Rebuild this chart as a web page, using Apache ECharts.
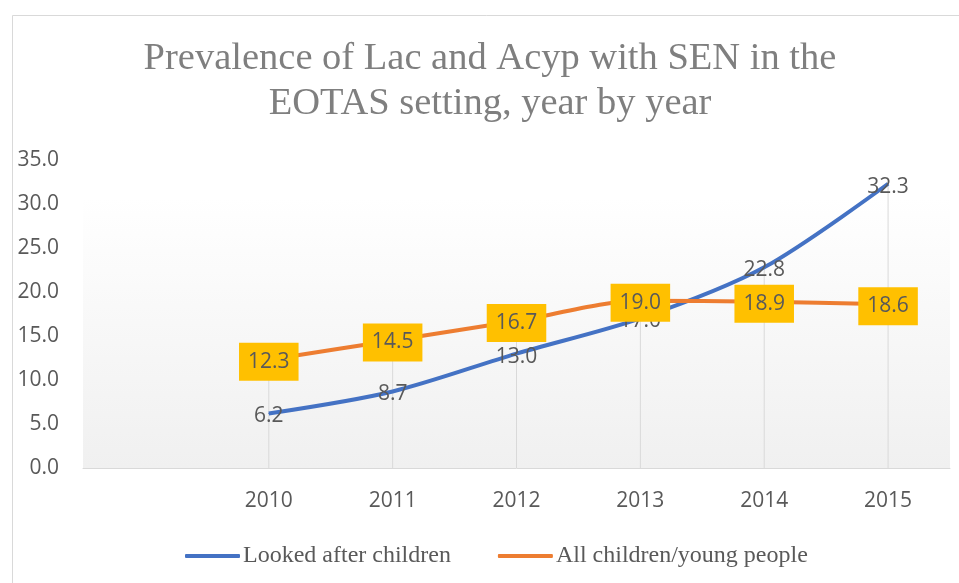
<!DOCTYPE html>
<html>
<head>
<meta charset="utf-8">
<script src="https://cdn.jsdelivr.net/npm/echarts@6/dist/echarts.min.js"></script>
<style>html,body{margin:0;padding:0;background:#fff}#c{width:959px;height:583px}</style>
</head>
<body>
<div id="c"></div>
<script>
const categories = ['', '2010', '2011', '2012', '2013', '2014', '2015'];
const lookedAfter = [null, 6.2, 8.7, 13.0, 17.0, 22.8, 32.3];
const allChildren = [null, 12.3, 14.5, 16.7, 19.0, 18.9, 18.6];
const seriesNames = ['Looked after children', 'All children/young people'];
const yTicks = { min: 0, max: 35, interval: 5 };

const dropLines = categories.map((c, i) =>
  (lookedAfter[i] == null && allChildren[i] == null) ? null : Math.max(lookedAfter[i] ?? -Infinity, allChildren[i] ?? -Infinity));

const chart = echarts.init(document.getElementById('c'), null, { renderer: 'canvas' });
const sans = '"Open Sans", sans-serif';
const serif = '"Liberation Serif", "Times New Roman", serif';
chart.setOption({
  animation: false,
  backgroundColor: '#ffffff',
  graphic: [{
    type: 'rect', silent: true, z: -10,
    shape: { x: 12.5, y: 15.5, width: 1000, height: 1000 },
    style: { fill: 'none', stroke: '#d9d9d9', lineWidth: 1 }
  }],
  title: {
    text: 'Prevalence of Lac and Acyp with SEN in the\nEOTAS setting, year by year',
    left: 490, textAlign: 'center', top: 36, padding: 0,
    textStyle: { fontFamily: serif, fontSize: 38.5, fontWeight: 'normal', color: '#7f7f7f', lineHeight: 45 }
  },
  legend: {
    data: seriesNames, left: 185, top: 544, padding: 0, itemWidth: 55, itemHeight: 4, itemGap: 47,
    icon: 'roundRect',
    textStyle: { fontFamily: serif, fontSize: 24, color: '#595959', padding: [0, 0, 0, -2] }
  },
  grid: {
    left: 83, right: 9, top: 160, bottom: 115, show: true, borderWidth: 0,
    backgroundColor: { type: 'linear', x: 0, y: 0, x2: 0, y2: 1,
      colorStops: [{ offset: 0, color: '#ffffff' }, { offset: 0.12, color: '#ffffff' }, { offset: 1, color: '#f0f0f0' }] }
  },
  xAxis: {
    type: 'category', data: categories, boundaryGap: true,
    axisLine: { lineStyle: { color: '#d9d9d9', width: 1 } },
    axisTick: { show: false },
    axisLabel: { interval: 0, margin: 23, fontFamily: sans, fontSize: 21, color: '#595959' },
    splitLine: { show: false }
  },
  yAxis: {
    type: 'value', min: yTicks.min, max: yTicks.max, interval: yTicks.interval,
    axisLine: { show: false }, axisTick: { show: false }, splitLine: { show: false },
    axisLabel: { margin: 24, fontFamily: sans, fontSize: 21, color: '#595959', formatter: v => v.toFixed(1) }
  },
  series: [
    {
      type: 'bar', name: 'drop', data: dropLines, barWidth: 1, silent: true,
      itemStyle: { color: '#d9d9d9' }, z: 1
    },
    {
      type: 'line', name: seriesNames[0], data: lookedAfter, smooth: 0.3,
      symbol: 'circle', symbolSize: 1, showSymbol: true, z: 2,
      lineStyle: { color: '#4472c4', width: 4 }, itemStyle: { color: '#4472c4' },
      label: { show: true, position: 'inside', offset: [0, 3], fontFamily: sans, fontSize: 21, color: '#595959',
        formatter: p => p.value.toFixed(1) }
    },
    {
      type: 'line', name: seriesNames[1], data: allChildren, smooth: 0.3,
      symbol: 'circle', symbolSize: 1, showSymbol: true, z: 3,
      lineStyle: { color: '#ed7d31', width: 4 }, itemStyle: { color: '#ed7d31' },
      label: { show: true, position: 'inside', offset: [0, 2], fontFamily: sans, fontSize: 21, color: '#595959',
        backgroundColor: '#ffc000', padding: [6, 9, 5, 9], lineHeight: 27,
        formatter: p => p.value.toFixed(1) }
    }
  ]
});
</script>
</body>
</html>
